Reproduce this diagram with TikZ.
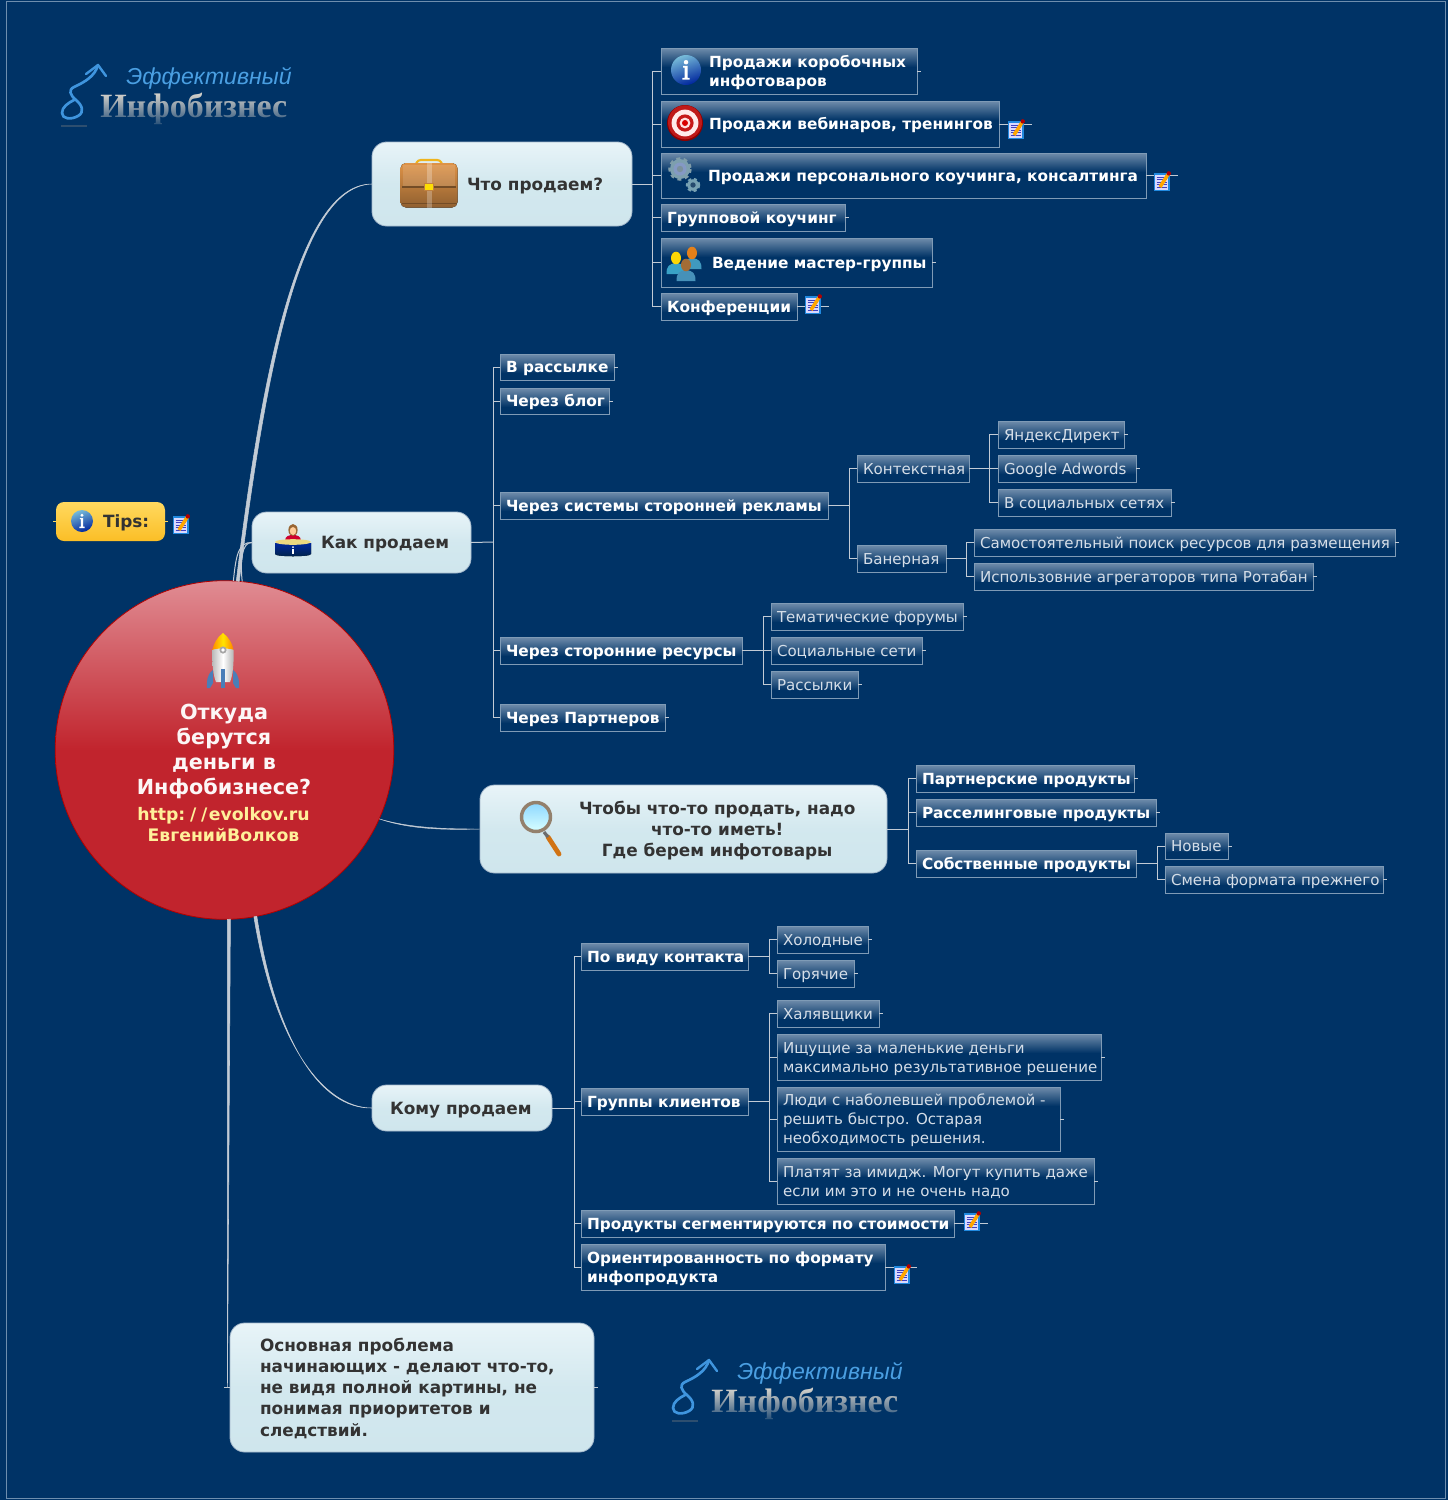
\documentclass[tikz,border=0pt]{standalone}
\usepackage{fontspec}
\setmainfont{DejaVu Sans}
\newfontfamily\logoA{Liberation Sans}
\newfontfamily\logoB{Liberation Serif}
\usetikzlibrary{fadings,calc}
\definecolor{bgc}{HTML}{003366}
\definecolor{frm}{HTML}{6E8EAE}
\definecolor{boxtop}{HTML}{6F8CAB}
\definecolor{boxln}{HTML}{7F9BB6}
\definecolor{boxtx}{HTML}{D5DEE8}
\definecolor{conc}{HTML}{C2CBD5}
\definecolor{toptc}{HTML}{E8F4F8}
\definecolor{topbc}{HTML}{CFE6ED}
\definecolor{toptx}{HTML}{333333}
\definecolor{redd}{HTML}{C1242D}
\definecolor{redt}{HTML}{E08C93}
\definecolor{yel}{HTML}{FFF09A}
\definecolor{tipt}{HTML}{FFD95F}
\definecolor{tipb}{HTML}{FBBE26}
\definecolor{lgblue}{HTML}{4A9FE2}
\definecolor{lgarrowc}{HTML}{3F95DE}
\definecolor{lggray}{HTML}{D2D0CA}
\pgfdeclareverticalshading{redcirc}{100bp}{color(0bp)=(redd); color(50bp)=(redd); color(75bp)=(redt); color(100bp)=(redt)}
\pgfdeclareverticalshading{topshade}{100bp}{color(0bp)=(topbc); color(25bp)=(topbc); color(50bp)=(topbc!85!toptc); color(75bp)=(toptc); color(100bp)=(toptc)}
\tikzfading[name=logofade, top color=transparent!100, bottom color=transparent!15]
\tikzset{
  conn/.style={draw=conc,line width=0.75pt},
  thick conn/.style={fill=conc,draw=conc,line width=0.4pt},
  subbox/.style={draw=boxln,line width=0.75pt,inner sep=0pt,outer sep=0pt,anchor=center},
  subbold/.style={subbox,text=white,font=\fontsize{11.5}{14.25}\selectfont\bfseries},
  subreg/.style={subbox,text=boxtx,font=\fontsize{11.3}{14.25}\selectfont},
  topicbox/.style={shading=topshade,draw=boxln!70!white,line width=0.6pt,rounded corners=11pt,inner sep=0pt,outer sep=0pt,text=toptx,font=\fontsize{12.65}{15.9}\selectfont\bfseries},
  tipsbox/.style={top color=tipt,bottom color=tipb,draw=none,rounded corners=6pt,inner sep=0pt,outer sep=0pt,text=toptx,font=\fontsize{12.65}{15.9}\selectfont\bfseries},
}
% #1 style, #2 name, #3 x1, #4 y1, #5 x2, #6 y2, #7 text x, #8 text
\newcommand\bx[8]{%
  \pgfmathsetmacro\bxw{(#5-#3)*0.75}\pgfmathsetmacro\bxh{(#6-#4)*0.75}\pgfmathsetmacro\bxp{(#7-#3)*0.75}%
  \shade[top color=boxtop,bottom color=bgc] (#3,#4) rectangle (#5,#4+19);
  \node[#1,minimum width=\bxw pt,minimum height=\bxh pt] (#2) at ({(#3+#5)/2},{(#4+#6)/2})
    {\makebox[\bxw pt][l]{\hspace*{\bxp pt}\raisebox{0pt}[\dimexpr\height+3pt\relax][\depth]{\begin{tabular}[c]{@{}l@{}}#8\end{tabular}}}};
  \draw[conn] (#2.east) -- ++(3.5,0);
}
\newcommand\tp[9]{%
  \pgfmathsetmacro\bxw{(#5-#3)*0.75}\pgfmathsetmacro\bxh{(#6-#4)*0.75}\pgfmathsetmacro\bxp{(#7-#3)*0.75}%
  \node[#1,minimum width=\bxw pt,minimum height=\bxh pt] (#2) at ({(#3+#5)/2},{(#4+#6)/2})
    {\makebox[\bxw pt][l]{\hspace*{\bxp pt}\raisebox{0pt}[\dimexpr\height+3pt\relax][\depth]{\begin{tabular}[c]{@{}#8@{}}#9\end{tabular}}}};
}
% icons
\newcommand\icinfo[3]{\begin{scope}[shift={(#1,#2)},scale=#3]
  \shade[top color=blue!30!cyan!45!white!85!black,bottom color=blue!55!black!85!cyan,shading angle=20] (0,0) circle (1);
  \fill[white] (0,-0.52) circle (0.15);
  \fill[white] (-0.2,-0.27) -- (0.1,-0.27) -- (0.1,0.52) -- (0.24,0.52) -- (0.24,0.64) -- (-0.24,0.64) -- (-0.24,0.52) -- (-0.1,0.52) -- (-0.1,-0.16) -- (-0.2,-0.16) -- cycle;
\end{scope}}
\newcommand\ictarget[2]{\begin{scope}[shift={(#1,#2)}]
  \fill[red!55!black] (0,0) circle (18);
  \fill[red!72!black!90!white] (0,-0.7) circle (17);
  \fill[white!92!red] (0,0) circle (13.4);
  \fill[red!75!black!90!white] (0,0) circle (8.6);
  \fill[white!88!red] (0,0) circle (5.4);
  \fill[red!85!black] (0,0) circle (3);
\end{scope}}
\newcommand\icgears[2]{\begin{scope}[shift={(#1,#2)}]
  \draw[draw=cyan!25!gray,line width=2.6pt,dash pattern=on 2.8pt off 2.6pt] (-3,-6) circle (10);
  \fill[cyan!30!gray] (-3,-6) circle (10);
  \fill[cyan!45!blue!60!gray!70!white] (-3,-6) circle (6.5);
  \fill[cyan!25!gray!90!black] (-3,-6) circle (3.2);
  \draw[draw=gray!65!cyan,line width=2pt,dash pattern=on 2.2pt off 2pt] (10,10) circle (5.8);
  \fill[gray!65!cyan] (10,10) circle (5.8);
  \fill[bgc!70!gray] (10,10) circle (2.7);
\end{scope}}
\newcommand\icperson[4]{\begin{scope}[shift={(#1,#2)}]
  \fill[#4] (-9.5,16) .. controls (-9.5,8) and (-7,6) .. (0,5) .. controls (7,6) and (9.5,8) .. (9.5,16) -- cycle;
  \fill[#3] (0,0) ellipse (5 and 6.3);
\end{scope}}
\newcommand\icpeople[2]{\begin{scope}[shift={(#1,#2)}]
  \icperson{6}{-9}{orange!60!brown}{blue!30!cyan!50!gray}
  \icperson{-10}{-4}{yellow!75!orange}{blue!25!cyan!55!gray}
  \icperson{0}{3}{brown!85!black}{blue!35!cyan!45!gray}
\end{scope}}
\newcommand\icnote[2]{\begin{scope}[shift={(#1,#2)}]
  \fill[blue!45!cyan!75!gray] (-8.5,-9) rectangle (7.5,9);
  \fill[white!85!blue] (-7,-7.5) rectangle (6,7.5);
  \foreach \ny in {-5,-2.5,0,2.5,5} {\draw[blue!50!gray,line width=0.7pt] (-5.5,\ny) -- (4.5,\ny);}
  \draw[orange!70!yellow,line width=2.6pt] (-2,5) -- (6,-7.5);
  \fill[red!70!black] (6.8,-8.6) circle (2.2);
\end{scope}}
\newcommand\iccase[2]{\begin{scope}[shift={(#1,#2)}]
  \draw[yellow!50!orange!80!brown,line width=1.6pt,rounded corners=2pt] (-13,-20) -- (-11,-24) -- (11,-24) -- (13,-20);
  \fill[top color=brown!60!orange!85!white,bottom color=brown!75!black,rounded corners=4pt] (-28.5,-21) rectangle (28.5,23.5);
  \fill[white,opacity=0.12] (-26,-19) rectangle (26,2);
  \draw[brown!60!black,line width=0.9pt] (-27,3) -- (27,3);
  \draw[brown!60!black,line width=0.7pt] (-27.5,19) -- (27.5,19);
  \fill[white,opacity=0.25] (-2.5,-21) rectangle (2.5,23.5);
  \fill[yellow!80!orange,draw=brown,line width=0.3pt] (-4.5,-1) rectangle (4.5,6.5);
\end{scope}}
\newcommand\icdesk[2]{\begin{scope}[shift={(#1,#2)}]
  \fill[purple!75!red] (-8,0) .. controls (-8,-5) and (-4,-6) .. (0,-6) .. controls (4,-6) and (8,-5) .. (8,0) -- cycle;
  \fill[brown!80!black] (0,-11) ellipse (4.6 and 6);
  \fill[orange!40!white] (0,-10) ellipse (3.2 and 4);
  \fill[top color=blue!55!black!85!cyan,bottom color=bgc!70!black] (-18,2) -- (18,2) -- (18,13) .. controls (18,16) and (-18,16) .. (-18,13) -- cycle;
  \fill[yellow!50!brown!60!white] (0,1) ellipse (18 and 2.8);
  \fill[white] (0,6) circle (1);
  \fill[white] (-0.9,8) rectangle (0.9,13);
\end{scope}}
\newcommand\icglass[2]{\begin{scope}[shift={(#1,#2)}]
  \draw[orange!65!brown!90!black,line width=3.6pt,line cap=round] (8,8) -- (19,25);
  \draw[gray!85!black,line width=2.4pt] (4,3) -- (8,8);
  \shade[top color=blue!35!cyan!45!white,bottom color=cyan!15!white,draw=gray!70!brown,line width=2.6pt] (-4,-12) circle (14.5);
\end{scope}}
\newcommand\icrocket[2]{\begin{scope}[shift={(#1,#2)}]
  \fill[cyan!55!blue!70!gray] (-10,37) .. controls (-17,42) and (-16,50) .. (-16,55) -- (-13,55) -- (-10,50) -- cycle;
  \fill[cyan!55!blue!70!gray] (10,37) .. controls (17,42) and (16,50) .. (16,55) -- (13,55) -- (10,50) -- cycle;
  \shade[left color=gray!55,right color=gray!60,middle color=white] (-10.5,17) .. controls (-10.5,14) and (10.5,14) .. (10.5,17) .. controls (11,30) and (10,42) .. (7,49) -- (-7,49) .. controls (-10,42) and (-11,30) .. (-10.5,17) -- cycle;
  \shade[left color=orange!90!yellow,right color=orange,middle color=yellow!80!orange] (0,0) .. controls (-6,4) and (-10,12) .. (-10.5,17) .. controls (-10,15) and (10,15) .. (10.5,17) .. controls (10,12) and (6,4) .. (0,0) -- cycle;
  \fill[gray!70] (0,17) circle (3.6);
  \fill[white] (0,17) circle (1.9);
  \fill[cyan!55!blue!70!gray] (-1.6,36) rectangle (1.6,55);
\end{scope}}
\newcommand\lgarrow[2]{\begin{scope}[shift={(#1,#2)}]
  \draw[lgarrowc,line width=2pt,line cap=round,line join=round] (98,65) .. controls (95,76) and (85,82) .. (74,87) .. controls (68,90) and (70,95) .. (76,100) .. controls (82,105) and (85,112) .. (78,116) .. controls (71,120) and (62,119) .. (62,113) .. controls (62,107) and (68,103) .. (74,100);
  \draw[lgarrowc,line width=1.8pt,line cap=round,line join=round] (86,74) -- (98,65) -- (106,76);
  \fill[gray!35!bgc] (61,125) rectangle (87,126.5);
\end{scope}}
\begin{document}
\begin{tikzpicture}[x=0.75pt,y=-0.75pt]
\useasboundingbox (0,0) rectangle (1448,1500);
\fill[bgc] (0,0) rectangle (1448,1500);
\draw[frm,line width=0.75pt] (6.5,1.5) rectangle (1445.5,1498);

% ---- root
\node[circle,shading=redcirc,draw=red!70!black,line width=0.6pt,minimum size=254pt,inner sep=0pt,outer sep=0pt] (root) at (224.5,750) {};

% ---- topics
\tp{topicbox}{chto}{372}{142}{632}{226}{467}{l}{Что продаем?}
\tp{topicbox}{kak}{252}{512}{471}{573}{321}{l}{Как продаем}
\tp{topicbox}{chtoby}{480}{785}{887}{873}{579}{c}{Чтобы что-то продать, надо\\что-то иметь!\\Где берем инфотовары}
\tp{topicbox}{komu}{372}{1085}{552}{1131}{390}{l}{Кому продаем}
\tp{topicbox}{osn}{230}{1323}{594}{1452}{260}{l}{Основная проблема\\начинающих - делают что-то,\\не видя полной картины, не\\понимая приоритетов и\\следствий.}
\tp{tipsbox}{tips}{56}{502}{165}{541}{103}{l}{Tips:}
\draw[tipt,line width=0.75pt] (tips.west) -- ++(-3,0);
\draw[tipt,line width=0.75pt] (tips.east) -- ++(3,0);
\draw[conn] (osn.east) -- ++(3.5,0);
\draw[conn] (osn.west) -- ++(-6,0);

% ---- root connectors
\filldraw[thick conn] (root.86.6) .. controls (264,350) and (303,184) .. (chto.west) .. controls (303,186) and (268,352) .. (root.85.4) -- cycle;
\draw[conn] (root.87) .. controls (236,556) and (238,542) .. (kak.west);
\draw[conn] (root.84.5) .. controls (240,560) and (242,542) .. (kak.west);
\filldraw[thick conn,line width=0.3pt] (root.-24.9) .. controls (410,828) and (445,829) .. (chtoby.west) .. controls (445,830) and (410,829.5) .. (root.-24.3) -- cycle;
\filldraw[thick conn] (root.-80.6) .. controls (274,1040) and (322,1108) .. (komu.west) .. controls (320,1109) and (276,1041) .. (root.-79.4) -- cycle;
\filldraw[thick conn] (root.-89.6) -- (root.-89.3 |- osn.west) -- (root.-89.1 |- osn.west) -- (root.-88.9) -- cycle;

% ---- group 1
\bx{subbold}{a1}{661}{48}{917}{94}{709}{Продажи коробочных\\инфотоваров}
\bx{subbold}{a2}{661}{101}{999}{147}{709}{Продажи вебинаров, тренингов}
\bx{subbold}{a3}{661}{153}{1146}{198}{708}{Продажи персонального коучинга, консалтинга}
\bx{subbold}{a4}{661}{204}{845}{231}{667}{Групповой коучинг}
\bx{subbold}{a5}{661}{238}{932}{287}{712}{Ведение мастер-группы}
\bx{subbold}{a6}{661}{293}{797}{320}{667}{Конференции}
\coordinate (t1) at (652,184);
\draw[conn] (chto.east) -- (t1);
\foreach \c in {a1,a2,a3,a4,a5,a6} {\draw[conn] (t1) |- (\c.west);}
\draw[conn] (a2.east) -- ++(33,0);
\draw[conn] (a3.east) -- ++(32,0);
\draw[conn] (a6.east) -- ++(32,0);

% ---- group 2
\bx{subbold}{b1}{500}{354}{614}{380}{506}{В рассылке}
\bx{subbold}{b2}{500}{388}{609}{414}{506}{Через блог}
\bx{subbold}{b3}{500}{492}{828}{519}{506}{Через системы сторонней рекламы}
\bx{subbold}{b4}{500}{637}{742}{664}{506}{Через сторонние ресурсы}
\bx{subbold}{b5}{500}{704}{665}{731}{506}{Через Партнеров}
\coordinate (t2) at (493,542);
\draw[conn] (kak.east) -- (t2);
\foreach \c in {b1,b2,b3,b4,b5} {\draw[conn] (t2) |- (\c.west);}
\bx{subreg}{c1}{857}{455}{969}{482}{863}{Контекстная}
\bx{subreg}{c2}{857}{545}{946}{572}{863}{Банерная}
\coordinate (t3) at (849,505.5);
\draw[conn] (b3.east) -- (t3);
\foreach \c in {c1,c2} {\draw[conn] (t3) |- (\c.west);}
\bx{subreg}{d1}{998}{421}{1124}{448}{1004}{ЯндексДирект}
\bx{subreg}{d2}{998}{455}{1136}{482}{1004}{Google Adwords}
\bx{subreg}{d3}{998}{489}{1171}{516}{1004}{В социальных сетях}
\coordinate (t4) at (989,468.5);
\draw[conn] (c1.east) -- (t4);
\foreach \c in {d1,d2,d3} {\draw[conn] (t4) |- (\c.west);}
\bx{subreg}{d4}{974}{529}{1395}{556}{980}{Самостоятельный поиск ресурсов для размещения}
\bx{subreg}{d5}{974}{563}{1313}{590}{980}{Использовние агрегаторов типа Ротабан}
\coordinate (t5) at (966,558.5);
\draw[conn] (c2.east) -- (t5);
\foreach \c in {d4,d5} {\draw[conn] (t5) |- (\c.west);}
\bx{subreg}{e1}{771}{603}{963}{630}{777}{Тематические форумы}
\bx{subreg}{e2}{771}{637}{922}{664}{777}{Социальные сети}
\bx{subreg}{e3}{771}{671}{858}{698}{777}{Рассылки}
\coordinate (t6) at (763,650.5);
\draw[conn] (b4.east) -- (t6);
\foreach \c in {e1,e2,e3} {\draw[conn] (t6) |- (\c.west);}

% ---- group 3
\bx{subbold}{f1}{916}{765}{1134}{792}{922}{Партнерские продукты}
\bx{subbold}{f2}{916}{799}{1156}{826}{922}{Расселинговые продукты}
\bx{subbold}{f3}{916}{850}{1136}{877}{922}{Собственные продукты}
\coordinate (t7) at (908,829);
\draw[conn] (chtoby.east) -- (t7);
\foreach \c in {f1,f2,f3} {\draw[conn] (t7) |- (\c.west);}
\bx{subreg}{g1}{1165}{833}{1228}{859}{1171}{Новые}
\bx{subreg}{g2}{1165}{866}{1383}{893}{1171}{Смена формата прежнего}
\coordinate (t8) at (1157,863.5);
\draw[conn] (f3.east) -- (t8);
\foreach \c in {g1,g2} {\draw[conn] (t8) |- (\c.west);}

% ---- group 4
\bx{subbold}{h1}{581}{943}{748}{970}{587}{По виду контакта}
\bx{subbold}{h2}{581}{1088}{748}{1115}{587}{Группы клиентов}
\bx{subbold}{h3}{581}{1210}{954}{1237}{587}{Продукты сегментируются по стоимости}
\bx{subbold}{h4}{581}{1244}{885}{1290}{587}{Ориентированность по формату\\инфопродукта}
\coordinate (t9) at (574,1108);
\draw[conn] (komu.east) -- (t9);
\foreach \c in {h1,h2,h3,h4} {\draw[conn] (t9) |- (\c.west);}
\draw[conn] (h3.east) -- ++(34,0);
\draw[conn] (h4.east) -- ++(32,0);
\bx{subreg}{i1}{777}{926}{868}{953}{783}{Холодные}
\bx{subreg}{i2}{777}{960}{854}{987}{783}{Горячие}
\coordinate (t10) at (769,956.5);
\draw[conn] (h1.east) -- (t10);
\foreach \c in {i1,i2} {\draw[conn] (t10) |- (\c.west);}
\bx{subreg}{i3}{777}{1000}{879}{1027}{783}{Халявщики}
\bx{subreg}{i4}{777}{1034}{1101}{1080}{783}{Ищущие за маленькие деньги\\максимально результативное решение}
\bx{subreg}{i5}{777}{1087}{1060}{1151}{783}{Люди с наболевшей проблемой -\\решить быстро. Остарая\\необходимость решения.}
\bx{subreg}{i6}{777}{1158}{1094}{1204}{783}{Платят за имидж. Могут купить даже\\если им это и не очень надо}
\coordinate (t11) at (769,1101.5);
\draw[conn] (h2.east) -- (t11);
\foreach \c in {i3,i4,i5,i6} {\draw[conn] (t11) |- (\c.west);}

% ---- icons
\icinfo{686}{70}{15}
\ictarget{685}{123}
\icgears{683}{175}
\icpeople{686}{262}
\icnote{1016}{130}
\icnote{1162}{182}
\icnote{813}{305}
\icnote{972}{1222}
\icnote{902}{1275}
\icnote{181}{525}
\iccase{429}{184}
\icdesk{293}{541}
\icglass{540}{829}
\icinfo{82}{521}{11}
\icrocket{223}{633}

% ---- root text
\node[inner sep=0pt,text=white!92!redt,align=center,font=\fontsize{15.55}{18.75}\selectfont\bfseries] (rootlabel) at (224,751) {Откуда\\берутся\\деньги в\\Инфобизнесе?};
\node[inner sep=0pt,text=yel,align=center,font=\fontsize{12.95}{15.8}\selectfont\bfseries] (rooturl) at (223.5,825) {http:\kern3.6pt/\kern3.6pt/\kern1pt evolkov.ru\\ЕвгенийВолков};

% ---- logos
\lgarrow{0}{0}
\lgarrow{611}{1295}
\node[inner sep=0pt,anchor=west,text=lgblue,font=\fontsize{17.3}{20}\selectfont\logoA\itshape] (lg1a) at (126,78) {Эффективный};
\node[inner sep=0pt,anchor=west,text=lggray,font=\fontsize{25.5}{28}\selectfont\logoB\bfseries] (lg1b) at (100,109) {Инфобизнес};
\node[inner sep=0pt,anchor=west,text=lgblue,font=\fontsize{17.3}{20}\selectfont\logoA\itshape] (lg2a) at (737,1373) {Эффективный};
\node[inner sep=0pt,anchor=west,text=lggray,font=\fontsize{25.5}{28}\selectfont\logoB\bfseries] (lg2b) at (711,1404) {Инфобизнес};
\fill[bgc,path fading=logofade] (98,94) rectangle (292,126);
\fill[bgc,path fading=logofade] (709,1389) rectangle (903,1421);
\end{tikzpicture}
\end{document}
